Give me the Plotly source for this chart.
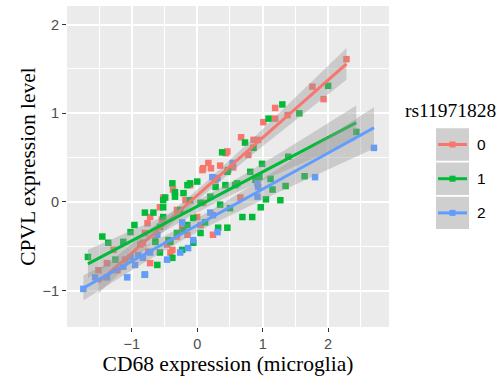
import numpy as np
import plotly.graph_objects as go

# ---------------- data ----------------
groups = ["0", "1", "2"]
colors = ["#F8766D", "#00BA38", "#619CFF"]

red_x = [1.76, 1.93, 1.19, 1.38, 1.01, 1.19, 0.67, 0.93, 0.46, 0.78, 0.09, 0.17, 0.21, 0.35, 0.55,
         0.08, 0.66, 0.00, -0.37, -0.31, -0.57, -0.72, -0.76, -0.64, -0.46, -0.80, -0.83, -0.38,
         -0.23, -0.15, 0.24, -0.52, -1.51, -1.10, -0.87, -0.75, -0.72, -0.54, -0.31, -1.38, -1.22,
         -0.41, 0.09, 0.44, 0.86, 2.28, -1.28, 0.28, -0.11, -0.18, 0.05]
red_y = [1.30, 1.16, 1.06, 0.98, 0.90, 0.94, 0.73, 0.70, 0.57, 0.53, 0.38, 0.44, 0.38, 0.41, 0.39,
         0.36, 0.05, -0.17, 0.14, -0.09, -0.06, -0.17, -0.24, -0.43, -0.48, -0.35, -0.46, -0.54,
         -0.28, -0.37, -0.37, 0.05, -0.77, -0.65, -0.48, -0.56, -0.69, -0.20, -0.39, -0.69, -0.77,
         -0.57, -0.01, 0.55, 0.70, 1.61, -0.54, 0.25, 0.19, 0.02, -0.26]

green_x = [2.00, 1.30, 1.09, 1.56, 2.43, 0.73, 0.86, 0.38, 1.39, 1.64, 1.35, 1.27, 1.15, 0.99, 1.12,
           0.95, 0.81, 0.46, 0.58, 0.69, 0.84, 0.46, 0.05, -0.06, -0.41, -0.61, -0.80,
           -1.25, -1.36, -1.45, -1.02, -0.96, -0.52, -0.34, -0.15, 0.00, 0.47, 0.89, 0.61, 0.43,
           0.28, 0.20, 0.35, 0.50, 0.32, 0.12, -0.06, 0.05, -0.11, -0.21, -0.34, -0.49, -0.38,
           -0.11, -0.26, -0.52, -0.67, -0.80, -0.31, -0.15, -0.57, -0.44, -0.23, -0.57, -1.13,
           -0.38, -0.64, -0.21, -0.52, -1.67, 1.05, 0.97]
green_y = [1.31, 1.10, 0.94, 1.00, 0.79, 0.67, 0.61, 0.56, 0.51, 0.29, 0.18, 0.02, 0.14, 0.43, 0.26,
           0.28, 0.34, 0.34, 0.19, -0.17, -0.17, -0.29, -0.35, -0.46, -0.45, -0.71, -0.82,
           -0.65, -0.46, -0.39, -0.34, -0.26, 0.02, 0.11, 0.19, 0.23, 0.36, 0.25, 0.21, 0.19,
           0.17, 0.06, -0.03, -0.07, -0.29, -0.23, -0.18, -0.01, 0.02, 0.10, 0.06, 0.05, 0.21,
           0.21, -0.09, -0.17, -0.12, -0.12, -0.35, -0.26, -0.28, -0.43, -0.54, -0.57, -0.45,
           -0.63, -0.45, -0.32, -0.06, -0.62, 0.03, -0.06]

blue_x = [1.80, 2.70, 0.92, 0.92, 0.54, 0.31, 0.23, 0.24, 0.31, -0.23, -0.26, -0.14, -0.46, -0.83,
          -1.02, -1.13, -1.38, -1.56, -1.07, -0.80, -0.06, -0.61, -0.72, -0.90, -0.95, -1.74,
          0.20, 0.93]
blue_y = [0.28, 0.61, 0.06, 0.21, 0.44, 0.27, 0.28, -0.15, -0.34, -0.23, -0.57, -0.52, -0.65, -0.63,
          -0.62, -0.73, -0.85, -0.85, -0.85, -0.82, -0.43, -0.37, -0.57, -0.60, -0.71, -0.98,
          -0.12, 0.17]

xs_all = [red_x, green_x, blue_x]
ys_all = [red_y, green_y, blue_y]

x_ticks = [-1, 0, 1, 2]
y_ticks = [-1, 0, 1, 2]

# ---------------- geometry ----------------
W, H = 500, 383
ML, MR, MT, MB = 67, 111, 6, 56
PW, PH = W - ML - MR, H - MT - MB


def px(xp):
    return (xp - ML) / PW


def py(yp):
    return (H - MB - yp) / PH


def tq(df):
    z = 1.959964
    return z + (z**3 + z) / (4 * df) + (5 * z**5 + 16 * z**3 + 3 * z) / (96 * df**2)


def lm_band(x, y, n=80):
    x = np.asarray(x, float)
    y = np.asarray(y, float)
    b, a = np.polyfit(x, y, 1)
    grid = np.linspace(x.min(), x.max(), n)
    fit = a + b * grid
    res = y - (a + b * x)
    k = len(x)
    s = np.sqrt(np.sum(res**2) / (k - 2))
    sxx = np.sum((x - x.mean())**2)
    se = s * np.sqrt(1.0 / k + (grid - x.mean())**2 / sxx)
    w = tq(k - 2) * se
    return grid, fit, fit - w, fit + w


fig = go.Figure()

for g, c, x, y in zip(groups, colors, xs_all, ys_all):
    fig.add_trace(go.Scatter(x=x, y=y, mode="markers", name=g, showlegend=False,
                             marker=dict(symbol="square", size=6.5, color=c, line=dict(width=0))))

for g, c, x, y in zip(groups, colors, xs_all, ys_all):
    gx, fit, lo, hi = lm_band(x, y)
    fig.add_trace(go.Scatter(x=np.concatenate([gx, gx[::-1]]), y=np.concatenate([hi, lo[::-1]]),
                             fill="toself", fillcolor="rgba(153,153,153,0.4)", mode="lines",
                             line=dict(width=0), hoverinfo="skip", showlegend=False))
    fig.add_trace(go.Scatter(x=gx, y=fit, mode="lines", line=dict(color=c, width=3),
                             showlegend=False, hoverinfo="skip"))

axis_common = dict(
    ticks="outside", ticklen=4, tickwidth=1.1, tickcolor="#333333",
    tickfont=dict(family="Liberation Sans", size=14.5, color="#4D4D4D"),
    showgrid=True, gridcolor="white", gridwidth=1.8,
    zeroline=False, showline=False,
)

fig.update_xaxes(range=[-1.99, 2.93], tickvals=x_ticks,
                 minor=dict(tickvals=[-1.5, -0.5, 0.5, 1.5, 2.5], showgrid=True,
                            gridcolor="white", gridwidth=0.9, ticks=""),
                 title=dict(text="CD68 expression (microglia)", standoff=2,
                            font=dict(family="Liberation Serif", size=21.5, color="black")),
                 **axis_common)
fig.update_yaxes(range=[-1.41, 2.21], tickvals=y_ticks,
                 minor=dict(tickvals=[-0.5, 0.5, 1.5], showgrid=True,
                            gridcolor="white", gridwidth=0.9, ticks=""),
                 title=dict(text="CPVL expression level", standoff=1,
                            font=dict(family="Liberation Serif", size=21.5, color="black")),
                 **axis_common)

# ---------------- manual ggplot-style legend ----------------
shapes = []
annotations = [dict(text="rs11971828", x=px(403), y=py(110), xref="paper", yref="paper",
                    xanchor="left", yanchor="middle", showarrow=False,
                    font=dict(family="Liberation Serif", size=19.5, color="black"))]
key_top, key_h, key_gap = 128.3, 32.4, 1.8
for i, (g, c) in enumerate(zip(groups, colors)):
    t = key_top + i * (key_h + key_gap)
    b = t + key_h
    cy = (t + b) / 2
    shapes.append(dict(type="rect", xref="paper", yref="paper", x0=px(436), x1=px(469),
                       y0=py(b), y1=py(t), fillcolor="#CFCFCF", line=dict(width=0)))
    shapes.append(dict(type="line", xref="paper", yref="paper", x0=px(438), x1=px(467),
                       y0=py(cy), y1=py(cy), line=dict(color=c, width=3)))
    shapes.append(dict(type="rect", xref="paper", yref="paper", x0=px(449.5), x1=px(455.5),
                       y0=py(cy + 3), y1=py(cy - 3), fillcolor=c, line=dict(width=0)))
    annotations.append(dict(text=g, x=px(475), y=py(cy), xref="paper", yref="paper",
                            xanchor="left", yanchor="middle", showarrow=False,
                            font=dict(family="Liberation Sans", size=15.5, color="black")))

fig.update_layout(
    width=W, height=H, margin=dict(l=ML, r=MR, t=MT, b=MB),
    paper_bgcolor="white", plot_bgcolor="#EBEBEB",
    showlegend=False, shapes=shapes, annotations=annotations,
)

fig.write_html("out.html")
